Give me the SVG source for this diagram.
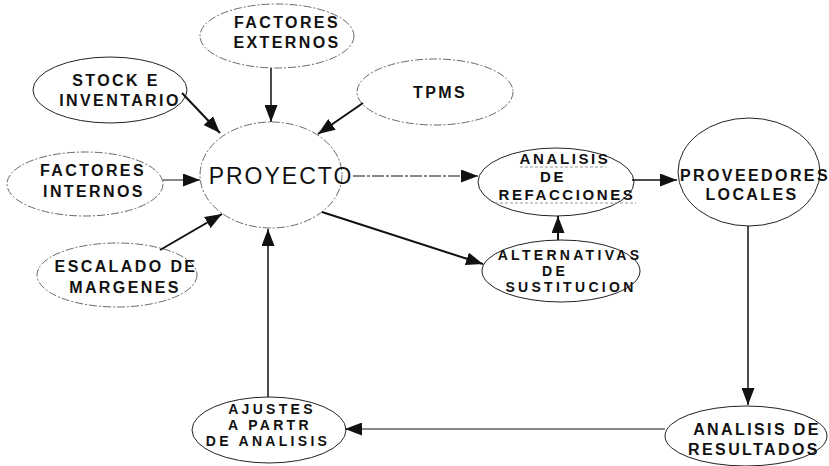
<svg xmlns="http://www.w3.org/2000/svg" width="829" height="466" viewBox="0 0 829 466">
  <style>
    .bg { fill: #ffffff; }
    .node ellipse { fill: #ffffff; stroke: #222222; stroke-width: 1; }
    .node ellipse.faint { stroke: #6a6a6a; stroke-dasharray: 8 2 2 2; }
    .node text { font-family: "Liberation Sans", Arial, Helvetica, sans-serif; font-weight: bold; font-size: 16px; letter-spacing: 2.4px; fill: #111111; text-anchor: middle; }
    .node text.tight { font-size: 15px; letter-spacing: 2.6px; }
    .node text.small { font-size: 14px; letter-spacing: 3.3px; }
    .node text.big { font-weight: normal; font-size: 23px; letter-spacing: 2px; }
    .uline { stroke: #9a9a9a; stroke-width: 1; stroke-dasharray: 3 2; }
    .edges line { stroke: #111111; fill: none; marker-end: url(#head); }
    .w1 { stroke-width: 1; }
    .w15 { stroke-width: 1.5; }
    .w2 { stroke-width: 2; }
    .dashdot { stroke-dasharray: 12 2 3 2; }
  </style>
  <defs>
    <marker id="head" markerUnits="userSpaceOnUse" markerWidth="17" markerHeight="13" refX="17" refY="6.5" orient="auto">
      <path d="M0,0 L17,6.5 L0,13 Z" fill="#111111"/>
    </marker>
  </defs>

  <rect class="bg" x="0" y="0" width="829" height="466"/>

  <g id="factores-externos" class="node">
    <ellipse class="faint" cx="277" cy="36" rx="77" ry="32"/>
    <text x="287" y="28">FACTORES</text>
    <text x="287" y="48">EXTERNOS</text>
  </g>

  <g id="stock-inventario" class="node">
    <ellipse cx="110" cy="90" rx="77" ry="33"/>
    <text x="116" y="86">STOCK E</text>
    <text x="120" y="106">INVENTARIO</text>
  </g>

  <g id="tpms" class="node">
    <ellipse class="faint" cx="435" cy="92" rx="78" ry="33"/>
    <text x="440" y="98">TPMS</text>
  </g>

  <g id="factores-internos" class="node">
    <ellipse class="faint" cx="85" cy="184" rx="78" ry="32"/>
    <text x="93" y="176">FACTORES</text>
    <text x="94" y="197">INTERNOS</text>
  </g>

  <g id="escalado-margenes" class="node">
    <ellipse class="faint" cx="117" cy="275" rx="80" ry="32"/>
    <text x="126" y="272">ESCALADO DE</text>
    <text x="125" y="293">MARGENES</text>
  </g>

  <g id="proyecto" class="node">
    <ellipse class="faint" cx="271" cy="175" rx="71" ry="53"/>
    <text class="big" x="281" y="184">PROYECTO</text>
  </g>

  <g id="analisis-refacciones" class="node">
    <ellipse cx="556" cy="182" rx="78" ry="34"/>
    <text class="tight" x="565" y="164">ANALISIS</text>
    <text class="tight" x="553" y="182">DE</text>
    <text class="tight" x="567" y="200">REFACCIONES</text>
    <line class="uline" x1="520" y1="167" x2="606" y2="167"/>
    <line class="uline" x1="495" y1="203" x2="636" y2="203"/>
  </g>

  <g id="alternativas-sustitucion" class="node">
    <ellipse cx="561" cy="271" rx="79" ry="31"/>
    <text class="small" x="570" y="260">ALTERNATIVAS</text>
    <text class="small" x="555" y="275.8">DE</text>
    <text class="small" x="571" y="291.6">SUSTITUCION</text>
  </g>

  <g id="proveedores-locales" class="node">
    <ellipse cx="749" cy="172" rx="71" ry="54"/>
    <text x="755" y="181">PROVEEDORES</text>
    <text x="752" y="200">LOCALES</text>
  </g>

  <g id="analisis-resultados" class="node">
    <ellipse cx="746" cy="436" rx="81" ry="30"/>
    <text x="757" y="435">ANALISIS DE</text>
    <text x="754" y="455">RESULTADOS</text>
  </g>

  <g id="ajustes-analisis" class="node">
    <ellipse cx="269" cy="430" rx="77" ry="33"/>
    <text class="small" x="272" y="414">AJUSTES</text>
    <text class="small" x="270" y="429.8">A PARTR</text>
    <text class="small" x="268" y="445.6">DE ANALISIS</text>
  </g>

  <g id="connectors" class="edges">
    <line class="w15" x1="271" y1="68" x2="271" y2="122"/>
    <line class="w2" x1="182" y1="93" x2="220" y2="133"/>
    <line class="w2" x1="363" y1="103" x2="318" y2="134"/>
    <line class="w1" x1="163" y1="180" x2="200" y2="180"/>
    <line class="w2" x1="160" y1="250" x2="222" y2="214"/>
    <line class="w1 dashdot" x1="353" y1="176" x2="478" y2="176"/>
    <line class="w2" x1="322" y1="212" x2="483" y2="264"/>
    <line class="w2" x1="558" y1="240" x2="558" y2="216"/>
    <line class="w15" x1="632" y1="180" x2="677" y2="180"/>
    <line class="w15" x1="748" y1="226" x2="748" y2="405"/>
    <line class="w1" x1="665" y1="429" x2="345" y2="429"/>
    <line class="w15" x1="268" y1="397" x2="268" y2="229"/>
  </g>
</svg>
